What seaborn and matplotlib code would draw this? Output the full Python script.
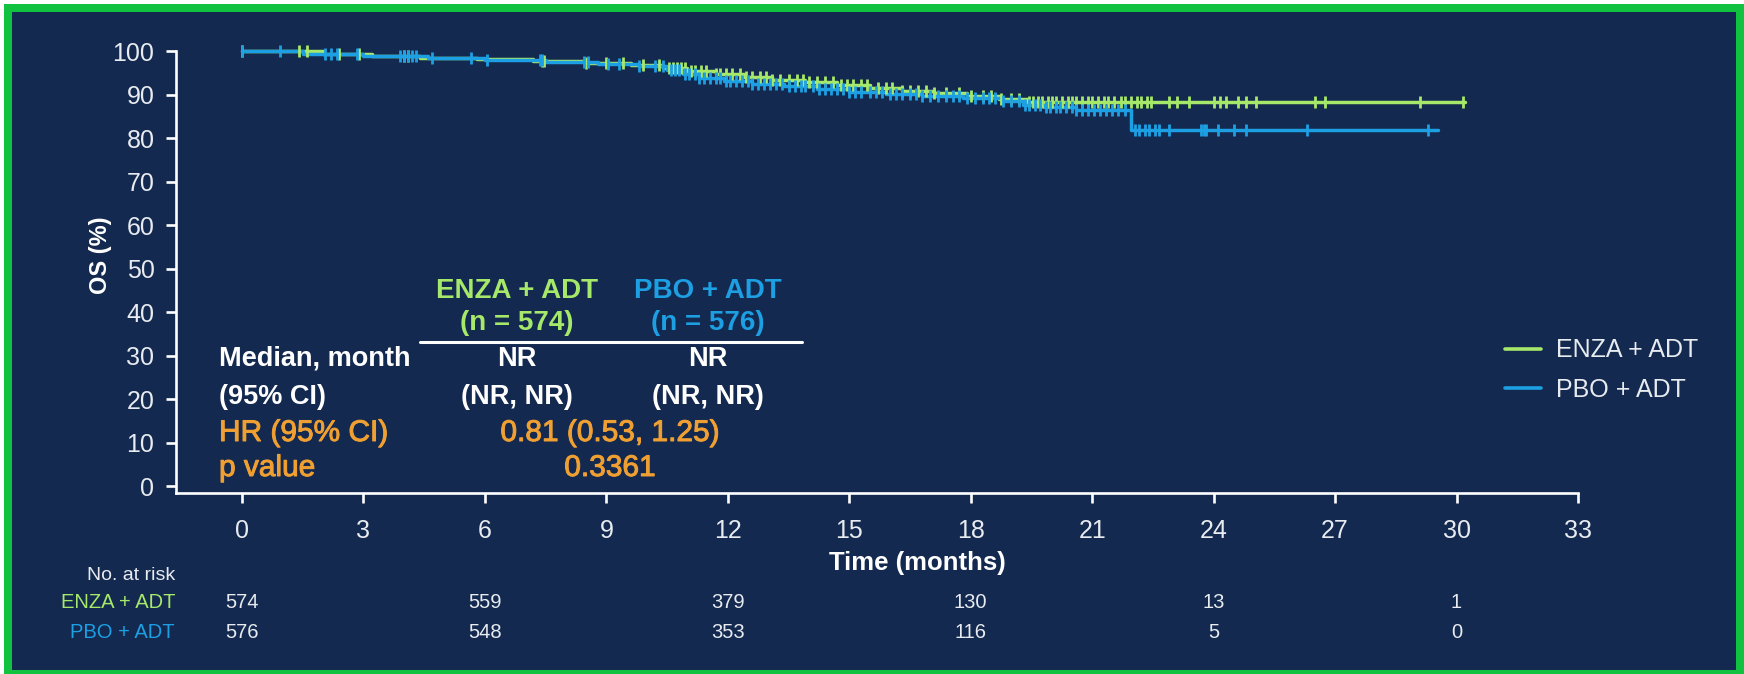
import numpy as np
import pandas as pd
import matplotlib
matplotlib.use("Agg")
import matplotlib.pyplot as plt
import matplotlib.patheffects as pe
from matplotlib.patches import Rectangle
from matplotlib.lines import Line2D
from matplotlib.transforms import blended_transform_factory
import seaborn as sns

# ---- data -------------------------------------------------------------
arms = ["ENZA + ADT", "PBO + ADT"]

enza_time = [0, 2.0, 3.2, 4.4, 5.8, 7.2, 8.5, 9.6, 10.4, 11.0, 11.7, 12.4, 13.1,
             13.9, 14.7, 15.5, 16.3, 17.1, 17.9, 18.7, 19.4, 30.2]
enza_surv = [100, 99.5, 99.0, 98.6, 98.2, 97.8, 97.3, 96.8, 96.2, 95.5, 94.8, 94.2,
             93.5, 92.9, 92.2, 91.6, 91.0, 90.4, 89.8, 89.1, 88.3, 88.3]

pbo_time = [0, 1.5, 3.0, 4.6, 6.0, 7.5, 8.8, 9.8, 10.5, 10.9, 11.3, 11.9, 12.6,
            13.4, 14.2, 15.0, 15.9, 16.8, 17.8, 18.8, 19.3, 19.8, 20.6, 21.97, 29.55]
pbo_surv = [100, 99.5, 99.0, 98.5, 98.1, 97.6, 97.1, 96.6, 95.8, 94.8, 93.9, 93.2,
            92.6, 92.0, 91.4, 90.8, 90.2, 89.7, 89.3, 88.6, 87.8, 87.2, 86.6, 82.0, 82.0]

enza_censor = [0.0, 1.4, 1.6, 2.4, 2.9, 4.0, 4.1, 7.4, 7.45, 8.5, 9.0, 9.4, 9.9, 10.3,
               10.55, 10.65, 10.75, 10.85, 10.95, 11.1, 11.2, 11.35, 11.45,
               11.7, 11.8, 11.95, 12.1, 12.3, 12.45, 12.6, 12.8, 12.95,
               13.1, 13.3, 13.5, 13.7, 13.85, 14.0, 14.2, 14.4, 14.6, 14.8, 14.95,
               15.1, 15.3, 15.45, 15.7, 15.9, 16.05, 16.3, 16.5, 16.7, 16.9, 17.1,
               17.4, 17.7, 18.0, 18.3, 18.5, 18.75, 19.0, 19.2,
               19.45, 19.55, 19.65, 19.75, 19.9, 20.0, 20.1, 20.25, 20.4, 20.5, 20.6,
               20.75, 20.9, 21.0, 21.15, 21.3, 21.4, 21.55, 21.7, 21.8, 21.95, 22.1,
               22.2, 22.35, 22.45, 22.9, 23.1, 23.4, 24.0, 24.15, 24.3, 24.6, 24.8,
               25.05, 26.5, 26.75, 29.1, 30.15]

pbo_censor = [0.0, 0.95, 2.05, 2.2, 2.35, 2.85, 3.9, 4.0, 4.1, 4.2, 4.3, 4.7, 5.65,
              6.05, 7.35, 7.4, 8.45, 8.55, 9.05, 9.3, 9.8, 10.2, 10.4,
              10.6, 10.7, 10.8, 10.95, 11.05, 11.2, 11.3, 11.4, 11.55, 11.7, 11.8,
              11.95, 12.05, 12.2, 12.35, 12.5, 12.6, 12.75, 12.9, 13.05, 13.2, 13.35,
              13.5, 13.65, 13.8, 13.9, 14.1, 14.25, 14.4, 14.55, 14.7, 14.85, 15.0,
              15.15, 15.3, 15.5, 15.65, 15.8, 16.0, 16.15, 16.3, 16.5, 16.65, 16.8,
              17.0, 17.2, 17.4, 17.55, 17.7, 17.9, 18.1, 18.3, 18.45, 18.6, 18.8,
              19.0, 19.2, 19.35, 19.45, 19.6, 19.7, 19.85, 19.95, 20.1, 20.2, 20.35,
              20.5, 20.6, 20.75, 20.9, 21.05, 21.2, 21.35, 21.5, 21.65, 21.8,
              22.05, 22.15, 22.3, 22.4, 22.55, 22.65, 22.9, 23.7, 23.75, 23.8, 24.1,
              24.5, 24.8, 26.3, 29.3]

risk_times = [0, 6, 12, 18, 24, 30]
enza_risk = [574, 559, 379, 130, 13, 1]
pbo_risk = [576, 548, 353, 116, 5, 0]

x_ticks = list(range(0, 34, 3))
y_ticks = list(range(0, 101, 10))

# ---- styling ----------------------------------------------------------
NAVY = "#13294f"
BORDER = "#10c23f"
GREEN = "#a5e86a"
BLUE = "#1d9fe3"
ORANGE = "#f0a032"
WHITE = "#ffffff"
TICKTXT = "#e8ebf0"
palette = {arms[0]: GREEN, arms[1]: BLUE}

sns.set_theme(style="ticks")
plt.rcParams["font.family"] = ["Liberation Sans", "DejaVu Sans"]

W, H = 1744, 674
fig = plt.figure(figsize=(W / 100, H / 100), dpi=100)
fig.patch.set_facecolor("white")


def fx(px):
    return px / W


def fy(py):
    return 1 - py / H


# framed navy panel
fig.add_artist(Rectangle((fx(4), fy(674)), fx(1740), 670 / H,
                         transform=fig.transFigure, facecolor=BORDER,
                         edgecolor="none", zorder=-10))
fig.add_artist(Rectangle((fx(12), fy(670)), fx(1724), 658 / H,
                         transform=fig.transFigure, facecolor=NAVY,
                         edgecolor="none", zorder=-9))

ax = fig.add_axes([fx(176), fy(493), fx(1578) - fx(176), fy(51.5) - fy(493)])
ax.patch.set_alpha(0)

# ---- survival curves --------------------------------------------------
curves = pd.concat([
    pd.DataFrame({"time": enza_time, "surv": enza_surv, "arm": arms[0]}),
    pd.DataFrame({"time": pbo_time, "surv": pbo_surv, "arm": arms[1]}),
], ignore_index=True)

sns.lineplot(data=curves, x="time", y="surv", hue="arm", palette=palette,
             estimator=None, sort=True, drawstyle="steps-post", linewidth=2.5,
             legend=False, ax=ax, clip_on=False, zorder=3)


def step_value(times, surv, t):
    idx = np.searchsorted(np.asarray(times), t, side="right") - 1
    return np.asarray(surv)[idx]


censors = pd.concat([
    pd.DataFrame({"time": enza_censor,
                  "surv": step_value(enza_time, enza_surv, np.array(enza_censor)),
                  "arm": arms[0]}),
    pd.DataFrame({"time": pbo_censor,
                  "surv": step_value(pbo_time, pbo_surv, np.array(pbo_censor)),
                  "arm": arms[1]}),
], ignore_index=True)

for arm in arms:
    sub = censors[censors["arm"] == arm]
    sns.scatterplot(data=sub, x="time", y="surv", color=palette[arm], marker="|",
                    s=80, linewidth=2.0, legend=False, ax=ax, clip_on=False,
                    zorder=4)

# ---- axes -------------------------------------------------------------
ax.set_xlim(-1.63, 33)
ax.set_ylim(-1.5, 100)
ax.set_xticks(x_ticks)
ax.set_yticks(y_ticks)
ax.set_xlabel("")
ax.set_ylabel("")
for side in ("top", "right"):
    ax.spines[side].set_visible(False)
for side in ("left", "bottom"):
    ax.spines[side].set_color(WHITE)
    ax.spines[side].set_linewidth(1.9)
ax.tick_params(axis="both", colors=WHITE, labelcolor=TICKTXT, labelsize=18,
               length=7.5, width=1.9)
ax.tick_params(axis="x", pad=11)
ax.tick_params(axis="y", pad=8)

fig.text(fx(100), fy(255), "OS (%)", rotation=90, ha="center", va="center",
         color=WHITE, fontsize=17, fontweight="bold")
fig.text(fx(917), fy(563), "Time (months)", ha="center", va="center",
         color=WHITE, fontsize=18.5, fontweight="bold")

# ---- legend -----------------------------------------------------------
handles = [Line2D([], [], color=palette[a], linewidth=2.6) for a in arms]
leg = ax.legend(handles, arms, loc="center left",
                bbox_to_anchor=(fx(1505), fy(370)),
                bbox_transform=fig.transFigure, frameon=False, fontsize=18,
                handlelength=1.45, handletextpad=0.6, labelspacing=0.62,
                borderpad=0, borderaxespad=0)
for t in leg.get_texts():
    t.set_color(TICKTXT)

# ---- summary statistics box ---------------------------------------------
heavy = [pe.withStroke(linewidth=0.7, foreground=ORANGE)]
c1, c2, cmid, lx = fx(517), fx(708), fx(610), fx(219)
fig.text(c1, fy(291), "ENZA + ADT", ha="center", va="center", color=GREEN,
         fontsize=20, fontweight="bold")
fig.text(c1, fy(323), "(n = 574)", ha="center", va="center", color=GREEN,
         fontsize=20, fontweight="bold")
fig.text(c2, fy(291), "PBO + ADT", ha="center", va="center", color=BLUE,
         fontsize=20, fontweight="bold")
fig.text(c2, fy(323), "(n = 576)", ha="center", va="center", color=BLUE,
         fontsize=20, fontweight="bold")
fig.add_artist(Line2D([fx(420), fx(802)], [fy(341.5), fy(341.5)],
                      transform=fig.transFigure, color=WHITE, linewidth=2.2))
fig.text(lx, fy(359), "Median, month", ha="left", va="center", color=WHITE,
         fontsize=19.5, fontweight="bold")
fig.text(lx, fy(396.5), "(95% CI)", ha="left", va="center", color=WHITE,
         fontsize=19.5, fontweight="bold")
for cx in (c1, c2):
    fig.text(cx, fy(359), "NR", ha="center", va="center", color=WHITE,
             fontsize=19.5, fontweight="bold")
    fig.text(cx, fy(396.5), "(NR, NR)", ha="center", va="center", color=WHITE,
             fontsize=19.5, fontweight="bold")
for x, ha, txt, row in ((lx, "left", "HR (95% CI)", 433),
                        (cmid, "center", "0.81 (0.53, 1.25)", 433),
                        (lx, "left", "p value", 468),
                        (cmid, "center", "0.3361", 468)):
    fig.text(x, fy(row), txt, ha=ha, va="center", color=ORANGE, fontsize=21.5,
             path_effects=heavy)

# ---- number at risk ---------------------------------------------------
rtrans = blended_transform_factory(ax.transData, fig.transFigure)
fig.text(fx(175), fy(575), "No. at risk", ha="right", va="center",
         color=TICKTXT, fontsize=14)
for label, counts, colour, row_y in ((arms[0], enza_risk, GREEN, 603),
                                     (arms[1], pbo_risk, BLUE, 632)):
    fig.text(fx(175), fy(row_y), label, ha="right", va="center",
             color=colour, fontsize=14.5)
    for t, n in zip(risk_times, counts):
        ax.text(t, fy(row_y), str(n), transform=rtrans, ha="center",
                va="center", color=TICKTXT, fontsize=14.5)

fig.savefig("out.png", dpi=100, facecolor=fig.get_facecolor())
